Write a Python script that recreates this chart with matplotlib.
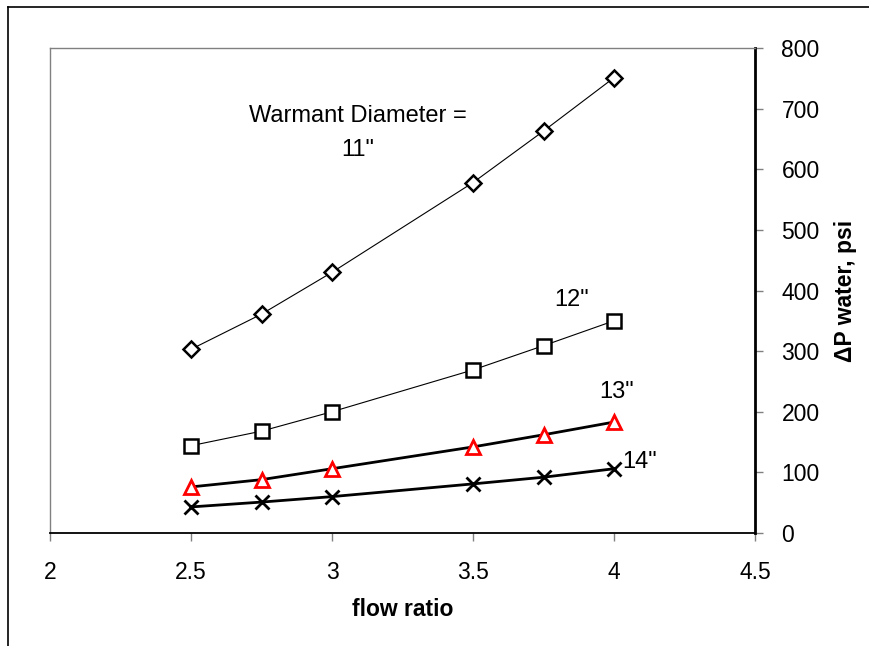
import matplotlib
matplotlib.use("Agg")
import matplotlib.pyplot as plt
from matplotlib.lines import Line2D

plt.rcParams['font.family'] = ['Liberation Sans', 'DejaVu Sans']

flow_ratio = [2.5, 2.75, 3.0, 3.5, 3.75, 4.0]
dp_11 = [303, 361, 430, 578, 663, 751]
dp_12 = [144, 168, 200, 269, 309, 350]
dp_13 = [76, 88, 106, 142, 162, 183]
dp_14 = [43, 51, 60, 81, 92, 106]

x_ticks = [2, 2.5, 3, 3.5, 4, 4.5]
x_tick_labels = ['2', '2.5', '3', '3.5', '4', '4.5']
y_ticks = [0, 100, 200, 300, 400, 500, 600, 700, 800]

fig = plt.figure(figsize=(8.69, 6.46), dpi=100)
ax = fig.add_axes([50/869, 113/646, 705/869, 485/646])

ax.plot(flow_ratio, dp_11, color='black', lw=0.8, marker='D', ms=8.5,
        mfc='white', mec='black', mew=1.8)
ax.plot(flow_ratio, dp_12, color='black', lw=0.8, marker='s', ms=10.5,
        mfc='white', mec='black', mew=1.8)
ax.plot(flow_ratio, dp_13, color='black', lw=2.0, marker='^', ms=10.5,
        mfc='white', mec='red', mew=2.0)
ax.plot(flow_ratio, dp_14, color='black', lw=2.0, marker='x', ms=10.5,
        mec='black', mew=2.0)

ax.set_xlim(2, 4.5)
ax.set_ylim(0, 800)
ax.set_xticks(x_ticks)
ax.set_xticklabels(x_tick_labels)
ax.set_yticks(y_ticks)

ax.yaxis.tick_right()
ax.yaxis.set_label_position('right')
ax.tick_params(axis='both', labelsize=16.5, direction='out', length=6,
               width=1, color='#808080')
ax.tick_params(axis='x', pad=14)
ax.tick_params(axis='y', pad=13)

for side in ('top', 'left'):
    ax.spines[side].set_color('#808080')
    ax.spines[side].set_linewidth(1.0)
ax.spines['bottom'].set_color('black')
ax.spines['bottom'].set_linewidth(1.3)
ax.spines['right'].set_color('black')
ax.spines['right'].set_linewidth(2.0)

ax.set_xlabel('flow ratio', fontsize=16.5, fontweight='bold', labelpad=10)
ax.set_ylabel('ΔP water, psi', fontsize=16.5, fontweight='bold', labelpad=10)

ax.text(3.09, 660, 'Warmant Diameter =\n11"', fontsize=17, ha='center',
        va='center', linespacing=1.75)
ax.text(3.85, 384, '12"', fontsize=17, ha='center', va='center')
ax.text(4.01, 232, '13"', fontsize=17, ha='center', va='center')
ax.text(4.09, 117, '14"', fontsize=17, ha='center', va='center')

# outer frame
fig.add_artist(Line2D([8/869, 8/869], [0, 1 - 7/646], color='black', lw=1.2,
                      transform=fig.transFigure))
fig.add_artist(Line2D([8/869, 1], [1 - 7/646, 1 - 7/646], color='black', lw=1.2,
                      transform=fig.transFigure))

fig.savefig('out.png', dpi=100)
